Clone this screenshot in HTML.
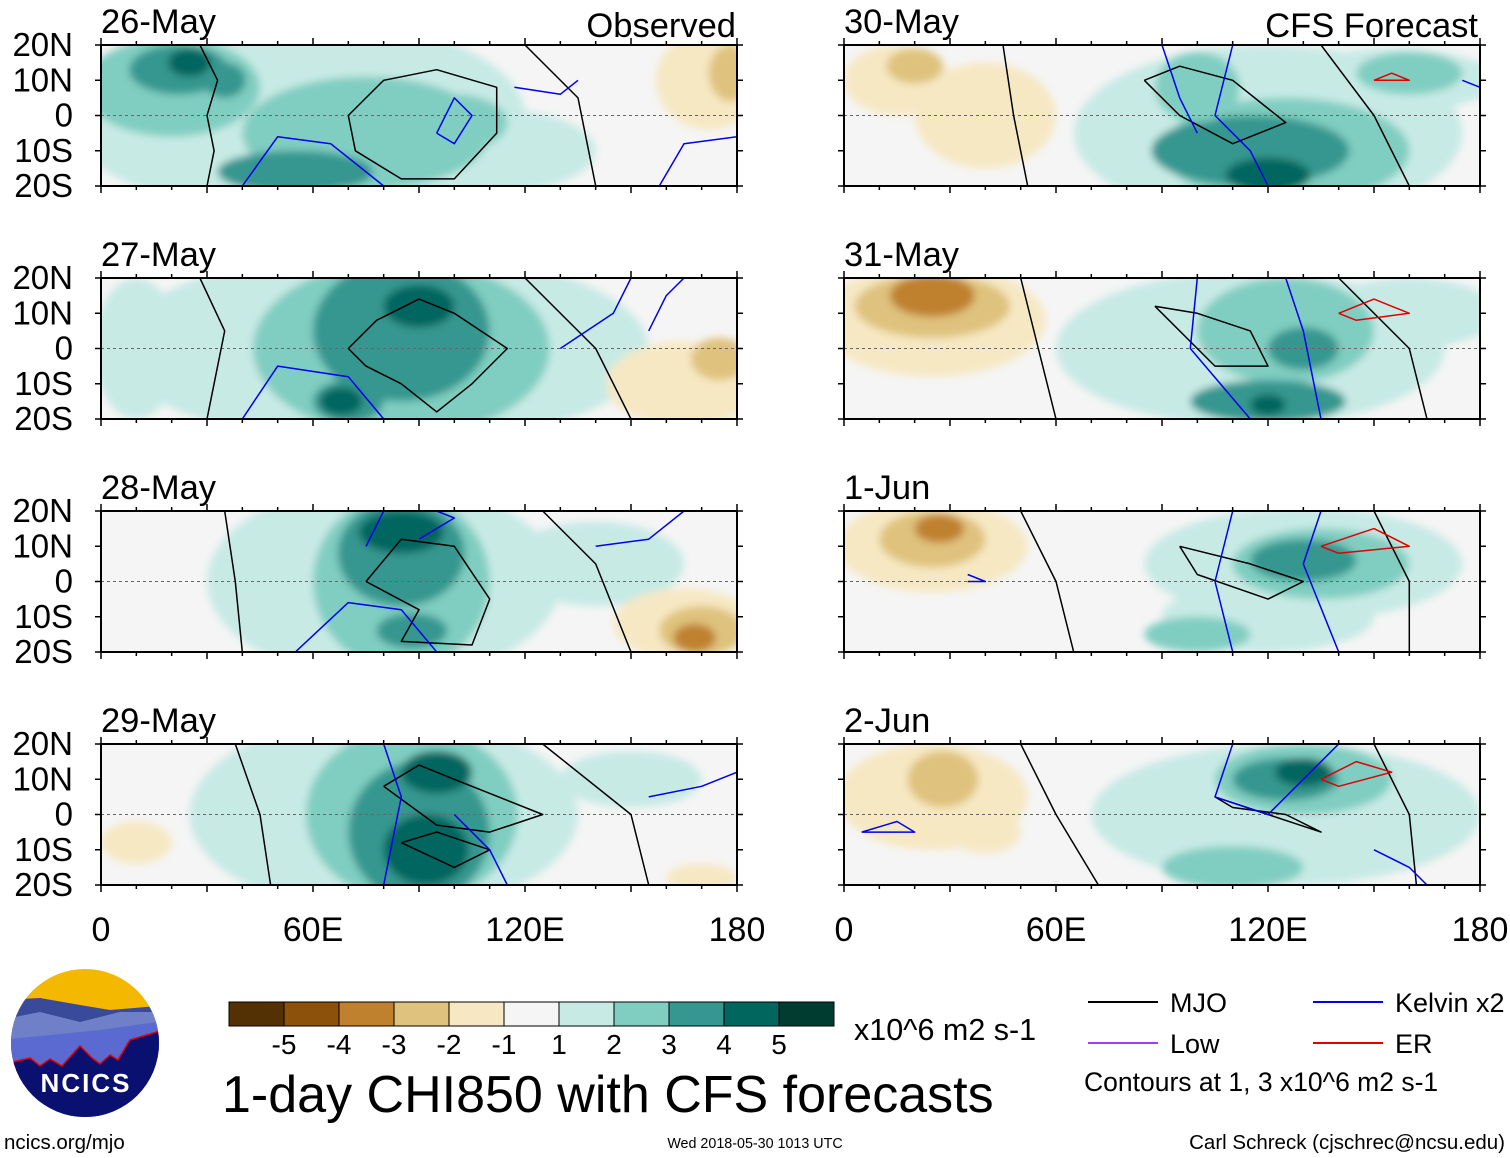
<!DOCTYPE html>
<html><head><meta charset="utf-8">
<style>
html,body{margin:0;padding:0;background:#fff;}
svg{display:block;font-family:"Liberation Sans",sans-serif;}
</style></head>
<body>
<svg id="fig" width="1510" height="1158" viewBox="0 0 1510 1158" xmlns="http://www.w3.org/2000/svg">
<defs>
<filter id="blur" x="-20%" y="-20%" width="140%" height="140%"><feGaussianBlur stdDeviation="4"/></filter>
<clipPath id="logoclip"><circle cx="85" cy="1043" r="74"/></clipPath>
</defs>
</svg>
<script>
const NS="http://www.w3.org/2000/svg";
const svg=document.getElementById('fig');
function mk(tag,attrs,parent){const e=document.createElementNS(NS,tag);for(const k in attrs)e.setAttribute(k,attrs[k]);(parent||svg).appendChild(e);return e;}

// ---- data ----
const levelColors={"-5":"#543005","-4":"#8c510a","-3":"#bf812d","-2":"#dfc27d","-1":"#f6e8c3","0":"#f5f5f5","1":"#c7eae5","2":"#80cdc1","3":"#35978f","4":"#01665e","5":"#003c30"};
const colorbarLevels=[-5,-4,-3,-2,-1,0,1,2,3,4,5];
const colorbarLabels=["-5","-4","-3","-2","-1","1","2","3","4","5"];
const panelDates=["26-May","27-May","28-May","29-May","30-May","31-May","1-Jun","2-Jun"];
const latTicks=[20,10,0,-10,-20];
const latLabels=["20N","10N","0","10S","20S"];
const lonTicks=[0,60,120,180];
const lonLabels=["0","60E","120E","180"];
// blobs: [lon, lat, radiusLon, radiusLat, level]
const blobs0=[[55,0,65,28,1],[110,-10,30,12,1],[20,8,25,14,2],[75,-5,35,16,2],[100,-2,15,8,2],[22,13,14,7,3],[55,-16,22,6,3],[35,10,6,5,3],[25,15,6,4,4],[172,10,15,14,-1],[178,12,6,8,-2]];
const blobs1=[[80,0,75,28,1],[10,0,12,20,1],[85,0,42,25,2],[85,5,25,20,3],[70,-15,10,6,3],[90,12,10,6,4],[68,-15,6,4,4],[165,-10,22,12,-1],[175,-3,8,6,-2]];
const blobs2=[[80,0,50,28,1],[140,5,25,12,1],[85,0,25,25,2],[85,8,18,15,3],[88,-14,10,5,3],[85,14,12,6,4],[165,-12,20,10,-1],[170,-14,12,7,-2],[168,-16,6,4,-3]];
const blobs3=[[80,0,55,28,1],[150,10,20,8,1],[88,0,30,25,2],[90,-5,20,20,3],[92,-10,12,10,4],[95,12,10,6,4],[10,-8,10,6,-1],[170,-18,10,4,-1]];
const blobs4=[[120,-5,55,25,1],[155,10,30,9,1],[125,-10,35,15,2],[160,12,15,6,2],[115,-10,28,10,3],[100,8,12,10,2],[120,-17,12,5,4],[15,10,15,10,-1],[40,0,20,15,-1],[20,14,8,5,-2]];
const blobs5=[[25,8,32,16,-1],[25,12,22,9,-2],[25,15,12,6,-3],[115,0,55,22,1],[160,10,25,10,1],[125,5,25,15,2],[120,-15,22,6,3],[130,0,10,6,3],[120,-16,5,3,4]];
const blobs6=[[25,10,27,13,-1],[25,12,15,8,-2],[27,15,7,4,-3],[130,5,45,16,1],[120,-10,30,10,1],[135,5,25,10,2],[100,-15,15,5,2],[130,6,15,6,3]];
const blobs7=[[25,5,27,15,-1],[28,10,10,8,-2],[40,-5,10,6,-1],[125,0,55,20,1],[130,10,25,10,2],[110,-15,20,6,2],[125,10,15,6,3],[130,12,8,4,4]];
const allBlobs=[blobs0,blobs1,blobs2,blobs3,blobs4,blobs5,blobs6,blobs7];
// contours: [type, points [lon,lat]...]
const contours0=[["k",[[28,20],[33,10],[30,0],[32,-10],[30,-20]]],["k",[[70,0],[80,10],[95,13],[112,8],[112,-5],[100,-18],[85,-18],[72,-10],[70,0]]],["k",[[120,20],[135,5],[140,-20]]],["b",[[40,-20],[50,-6],[65,-8],[80,-20]]],["b",[[95,-5],[100,5],[105,0],[100,-8],[95,-5]]],["b",[[117,8],[130,6],[135,10]]],["b",[[158,-20],[165,-8],[180,-6]]]];
const contours1=[["k",[[28,20],[35,5],[30,-20]]],["k",[[70,0],[78,8],[90,14],[100,10],[115,0],[105,-10],[95,-18],[85,-10],[75,-5],[70,0]]],["k",[[120,20],[140,0],[150,-20]]],["b",[[40,-20],[50,-5],[70,-8],[80,-20]]],["b",[[130,0],[145,10],[150,20]]],["b",[[155,5],[160,15],[165,20]]]];
const contours2=[["k",[[35,20],[38,0],[40,-20]]],["k",[[75,0],[85,12],[100,10],[110,-5],[105,-18],[85,-17],[90,-8],[75,0]]],["k",[[125,20],[140,5],[150,-20]]],["b",[[55,-20],[70,-6],[85,-8],[95,-20]]],["b",[[75,10],[80,20]]],["b",[[140,10],[155,12],[165,20]]],["b",[[90,12],[100,18],[95,20]]]];
const contours3=[["k",[[38,20],[45,0],[48,-20]]],["k",[[80,8],[90,14],[100,10],[125,0],[110,-5],[95,-3],[80,8]]],["k",[[85,-8],[100,-15],[110,-10],[95,-5],[85,-8]]],["k",[[125,20],[150,0],[155,-20]]],["b",[[80,20],[85,5],[80,-20]]],["b",[[100,0],[110,-10],[115,-20]]],["b",[[155,5],[170,8],[180,12]]]];
const contours4=[["k",[[45,20],[48,0],[52,-20]]],["k",[[85,10],[95,14],[110,10],[125,-2],[110,-8],[95,0],[85,10]]],["k",[[135,20],[150,0],[160,-20]]],["b",[[110,20],[105,0],[115,-10],[120,-20]]],["b",[[90,20],[95,5],[100,-5]]],["r",[[150,10],[155,12],[160,10],[150,10]]],["b",[[175,10],[180,8]]]];
const contours5=[["k",[[50,20],[55,0],[60,-20]]],["k",[[88,12],[100,10],[115,5],[120,-5],[105,-5],[88,12]]],["k",[[140,20],[160,0],[165,-20]]],["b",[[100,20],[98,0],[115,-20]]],["b",[[125,20],[130,5],[135,-20]]],["r",[[140,10],[150,14],[160,10],[145,8],[140,10]]]];
const contours6=[["k",[[50,20],[60,0],[65,-20]]],["k",[[95,10],[115,5],[130,0],[120,-5],[100,2],[95,10]]],["k",[[150,20],[160,0],[160,-20]]],["b",[[110,20],[105,0],[110,-20]]],["b",[[135,20],[130,5],[140,-20]]],["r",[[135,10],[150,15],[160,10],[140,8],[135,10]]],["b",[[35,2],[40,0],[35,0]]]];
const contours7=[["k",[[50,20],[60,0],[72,-20]]],["k",[[105,5],[120,0],[135,-5],[125,0],[110,2],[105,5]]],["k",[[150,20],[160,0],[162,-20]]],["b",[[110,20],[105,5],[120,0],[130,10],[140,20]]],["b",[[150,-10],[160,-15],[165,-20]]],["r",[[135,10],[145,15],[155,12],[140,8],[135,10]]],["b",[[5,-5],[20,-5],[15,-2],[5,-5]]]];
const allContours=[contours0,contours1,contours2,contours3,contours4,contours5,contours6,contours7];

// ---- layout ----
const colX=[101,844], panelW=636, panelH=141, rowY=[45,278,511,744];
function xScale(p,lon){return p.x+lon/180*panelW;}
function yScale(p,lat){return p.y+(20-lat)/40*panelH;}
const contourColor={k:"#000",b:"#0000ee",r:"#e00000"};

for(let i=0;i<8;i++){
  const p={x:colX[i<4?0:1],y:rowY[i%4]};
  const g=mk('g',{});
  
  
  const cid='clip'+i;
  const cp=mk('clipPath',{id:cid},svg.querySelector('defs'));
  mk('rect',{x:p.x,y:p.y,width:panelW,height:panelH},cp);
  mk('rect',{x:p.x,y:p.y,width:panelW,height:panelH,fill:levelColors["0"]},g);
  const fg=mk('g',{'clip-path':'url(#'+cid+')'},g);
  const bg=mk('g',{filter:'url(#blur)'},fg);
  allBlobs[i].forEach(b=>{
    const e=mk('ellipse',{cx:xScale(p,b[0]),cy:yScale(p,b[1]),rx:b[2]/180*panelW,ry:b[3]/40*panelH,fill:levelColors[String(b[4])]},bg);
    
    
  });
  mk('line',{x1:p.x,x2:p.x+panelW,y1:yScale(p,0),y2:yScale(p,0),stroke:"#666","stroke-dasharray":"3,3","stroke-width":1},fg);
  allContours[i].forEach(c=>{
    const d=c[1].map((pt,j)=>(j?'L':'M')+xScale(p,pt[0]).toFixed(1)+','+yScale(p,pt[1]).toFixed(1)).join(' ');
    const pth=mk('path',{d:d,fill:'none',stroke:contourColor[c[0]],'stroke-width':1.5,'stroke-linejoin':'round'},fg);
    
    
  });
  mk('rect',{x:p.x,y:p.y,width:panelW,height:panelH,fill:'none',stroke:'#000','stroke-width':2},g);
  for(let lon=0;lon<=180;lon+=10){
    const L=(lon%30===0)?7:4;
    mk('line',{x1:xScale(p,lon),x2:xScale(p,lon),y1:p.y,y2:p.y-L,stroke:'#000','stroke-width':1.5},g);
    mk('line',{x1:xScale(p,lon),x2:xScale(p,lon),y1:p.y+panelH,y2:p.y+panelH+L,stroke:'#000','stroke-width':1.5},g);
  }
  latTicks.forEach((lat,j)=>{
    mk('line',{x1:p.x,x2:p.x-6,y1:yScale(p,lat),y2:yScale(p,lat),stroke:'#000','stroke-width':1.5},g);
    mk('line',{x1:p.x+panelW,x2:p.x+panelW+6,y1:yScale(p,lat),y2:yScale(p,lat),stroke:'#000','stroke-width':1.5},g);
    if(i<4){const t=mk('text',{x:73,y:yScale(p,lat)+11,'font-size':33,'text-anchor':'end'},g);t.textContent=latLabels[j];
      }
  });
  const dt=mk('text',{x:p.x,y:p.y-12,'font-size':34.5},g);dt.textContent=panelDates[i];
  
  if(i%4===3){
    lonTicks.forEach((lon,j)=>{const t=mk('text',{x:xScale(p,lon),y:941,'font-size':34,'text-anchor':'middle'},g);t.textContent=lonLabels[j];
      });
  }
}
let t=mk('text',{x:736,y:37,'font-size':34.5,'text-anchor':'end'});t.textContent="Observed";

t=mk('text',{x:1478,y:37,'font-size':34.5,'text-anchor':'end'});t.textContent="CFS Forecast";


// colorbar
const cb=mk('g',{});
const cbX=229,cbW=55,cbY=1002,cbH=24;
colorbarLevels.forEach((lv,j)=>mk('rect',{x:cbX+j*cbW,y:cbY,width:cbW,height:cbH,fill:levelColors[String(lv)],stroke:'#000','stroke-width':1},cb));
colorbarLabels.forEach((l,j)=>{const tt=mk('text',{x:cbX+(j+1)*cbW,y:1054,'font-size':28,'text-anchor':'middle'},cb);tt.textContent=l;});
t=mk('text',{x:854,y:1040,'font-size':30.5});t.textContent="x10^6 m2 s-1";

t=mk('text',{x:222,y:1112,'font-size':52});t.textContent="1-day CHI850 with CFS forecasts";


// legend
const lg=mk('g',{});
[[1088,1002,"#000","MJO"],[1088,1043,"#a040f0","Low"],[1313,1002,"#0000ee","Kelvin x2"],[1313,1043,"#e00000","ER"]].forEach(r=>{
  mk('line',{x1:r[0],x2:r[0]+70,y1:r[1],y2:r[1],stroke:r[2],'stroke-width':2},lg);
  const tt=mk('text',{x:r[0]+82,y:r[1]+10,'font-size':27},lg);tt.textContent=r[3];
});
t=mk('text',{x:1084,y:1091,'font-size':26.5});t.textContent="Contours at 1, 3 x10^6 m2 s-1";

t=mk('text',{x:4,y:1149,'font-size':20.5});t.textContent="ncics.org/mjo";

t=mk('text',{x:755,y:1148,'font-size':14.3,'text-anchor':'middle'});t.textContent="Wed 2018-05-30 1013 UTC";

t=mk('text',{x:1505,y:1149,'font-size':20.5,'text-anchor':'end'});t.textContent="Carl Schreck (cjschrec@ncsu.edu)";


// logo
const lo=mk('g',{'clip-path':'url(#logoclip)'});
mk('rect',{x:0,y:960,width:170,height:170,fill:'#f5b800'},lo);
mk('path',{d:'M0,1000 L40,998 L80,1005 L110,1010 L170,1005 L170,1130 L0,1130Z',fill:'#3a4a9a'},lo);
mk('path',{d:'M0,1020 L40,1012 L80,1022 L120,1012 L170,1012 L170,1130 L0,1130Z',fill:'#7080c8'},lo);
mk('path',{d:'M0,1040 L50,1035 L100,1030 L170,1020 L170,1130 L0,1130Z',fill:'#5a6ad0'},lo);
mk('path',{d:'M0,1065 L30,1058 L40,1066 L50,1059 L62,1066 L80,1046 L92,1058 L100,1064 L110,1055 L118,1060 L130,1040 L170,1028 L170,1130 L0,1130Z',fill:'#0a1070',stroke:'#e00000','stroke-width':1.5},lo);
t=mk('text',{x:86,y:1092,'font-size':26,'font-weight':'bold','text-anchor':'middle',fill:'#fff','letter-spacing':'2'},lo);t.textContent="NCICS";
</script>
</body></html>
